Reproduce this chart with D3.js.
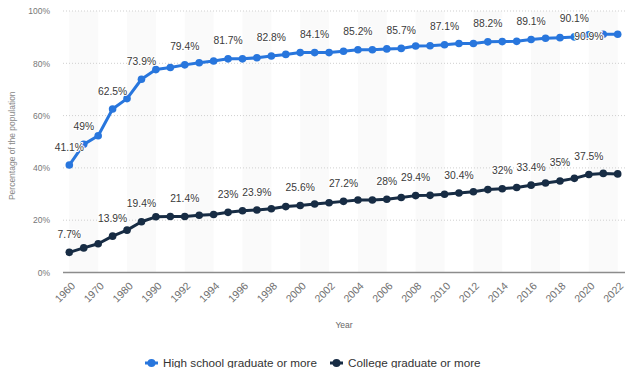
<!DOCTYPE html>
<html>
<head>
<meta charset="utf-8">
<script src="https://cdn.jsdelivr.net/npm/d3@7"></script>
<style>
  html, body { margin: 0; padding: 0; background: #fff; }
  svg { display: block; font-family: "Liberation Sans", Arial, sans-serif; }
</style>
</head>
<body>
<svg id="chart" width="625" height="368"></svg>
<script>
// Educational attainment of the population, 1960–2022
const years = ["1960","1965","1970","1975","1980","1985","1990","1991","1992","1993","1994","1995","1996","1997","1998","1999","2000","2001","2002","2003","2004","2005","2006","2007","2008","2009","2010","2011","2012","2013","2014","2015","2016","2017","2018","2019","2020","2021","2022"];
const highSchool = [41.1,49.0,52.3,62.5,66.5,73.9,77.6,78.4,79.4,80.2,80.9,81.7,81.7,82.1,82.8,83.4,84.1,84.1,84.1,84.6,85.2,85.2,85.5,85.7,86.6,86.7,87.1,87.6,87.6,88.2,88.3,88.4,89.1,89.6,89.8,90.1,90.9,91.1,91.1];
const college = [7.7,9.4,11.0,13.9,16.2,19.4,21.3,21.4,21.4,21.9,22.2,23.0,23.6,23.9,24.4,25.2,25.6,26.2,26.7,27.2,27.7,27.7,28.0,28.7,29.4,29.5,29.9,30.4,30.9,31.7,32.0,32.5,33.4,34.2,35.0,36.0,37.5,37.9,37.7];
// Years that carry a value label
const highSchoolLabeled = ["1960","1965","1975","1985","1992","1995","1998","2001","2004","2007","2010","2013","2016","2019","2020"];
const collegeLabeled = ["1960","1975","1985","1992","1995","1997","2000","2003","2006","2008","2011","2014","2016","2018","2020"];
const tickYears = ["1960","1970","1980","1990","1992","1994","1996","1998","2000","2002","2004","2006","2008","2010","2012","2014","2016","2018","2020","2022"];
const yTicks = [0, 20, 40, 60, 80, 100];
const seriesNames = ["High school graduate or more", "College graduate or more"];
const seriesColors = ["#2876dd", "#172c44"];

const svg = d3.select("#chart");
const plot = { left: 63, right: 625, top: 11, bottom: 272.5 };

const x = d3.scalePoint().domain(years).range([69.3, 617.7]);
const y = d3.scaleLinear().domain([0, 100]).range([plot.bottom, plot.top]);

// Alternating vertical bands, two categories wide
const bandStarts = years.filter((d, i) => i % 4 === 0 && i + 2 < years.length);
svg.append("g").selectAll("rect").data(bandStarts).join("rect")
  .attr("x", d => x(d))
  .attr("y", plot.top)
  .attr("width", d => x(years[years.indexOf(d) + 2]) - x(d))
  .attr("height", plot.bottom - plot.top)
  .attr("fill", "#fafafa");

// Horizontal grid
svg.append("g").selectAll("line").data(yTicks.filter(t => t > 0)).join("line")
  .attr("x1", plot.left).attr("x2", plot.right)
  .attr("y1", d => y(d)).attr("y2", d => y(d))
  .attr("stroke", "#cfcfcf").attr("stroke-width", 1)
  .attr("stroke-dasharray", "1,2");

// Y axis labels
const yAxis = d3.axisLeft(y).tickValues(yTicks).tickFormat(d => d + "%").tickSize(0).tickPadding(0);
const yg = svg.append("g").attr("transform", `translate(50,0)`).call(yAxis);
yg.select(".domain").remove();
yg.selectAll("text").attr("font-size", 8.5).attr("fill", "#777").attr("font-family", "Liberation Sans, Arial, sans-serif");

// X axis
const xAxis = d3.axisBottom(x).tickValues(tickYears).tickSize(0).tickPadding(0);
const xg = svg.append("g").attr("transform", `translate(0,${plot.bottom})`).call(xAxis);
xg.select(".domain").remove();
xg.selectAll("text")
  .attr("font-size", 10.5).attr("fill", "#707070")
  .attr("font-family", "Liberation Sans, Arial, sans-serif")
  .attr("text-anchor", "end")
  .attr("dy", 0)
  .attr("transform", "translate(6,14) rotate(-45)");

svg.append("line")
  .attr("x1", plot.left).attr("x2", plot.right)
  .attr("y1", plot.bottom).attr("y2", plot.bottom)
  .attr("stroke", "#8c8c8c").attr("stroke-width", 1.6);

// Axis titles
svg.append("text")
  .attr("transform", `translate(15,${(plot.top + plot.bottom) / 2 + 4}) rotate(-90)`)
  .attr("text-anchor", "middle").attr("font-size", 8.5).attr("fill", "#888")
  .text("Percentage of the population");
svg.append("text")
  .attr("x", (plot.left + plot.right) / 2).attr("y", 328)
  .attr("text-anchor", "middle").attr("font-size", 8.5).attr("fill", "#666")
  .text("Year");

// Series
const series = [
  { name: seriesNames[0], values: highSchool, color: seriesColors[0], labeled: highSchoolLabeled },
  { name: seriesNames[1], values: college, color: seriesColors[1], labeled: collegeLabeled }
];
const line = d3.line().x((d, i) => x(years[i])).y(d => y(d));

series.forEach(s => {
  const g = svg.append("g");
  g.append("path").attr("d", line(s.values))
    .attr("fill", "none").attr("stroke", s.color).attr("stroke-width", 3)
    .attr("stroke-linejoin", "round");
  g.selectAll("circle").data(s.values).join("circle")
    .attr("cx", (d, i) => x(years[i])).attr("cy", d => y(d))
    .attr("r", 3.8).attr("fill", s.color);
});

// Value labels
series.forEach((s, si) => {
  const lbl = s.labeled.map(yr => ({ yr, v: s.values[years.indexOf(yr)] }));
  svg.append("g").selectAll("text").data(lbl).join("text")
    .attr("x", d => x(d.yr))
    .attr("y", d => (si === 0 && d.yr === "2020") ? y(d.v) + 5 : y(d.v) - 14.5)
    .attr("text-anchor", "middle")
    .attr("font-size", 10.3)
    .attr("fill", "#3a3a3a")
    .attr("stroke", "#fff").attr("stroke-width", 2).attr("paint-order", "stroke")
    .attr("stroke-linejoin", "round")
    .text(d => d3.format("")(d.v) + "%");
});

// Legend
const legend = svg.append("g").attr("transform", "translate(0,363)");
const items = [{ x: 145, ...series[0] }, { x: 330, ...series[1] }];
items.forEach(it => {
  const g = legend.append("g").attr("transform", `translate(${it.x},0)`);
  g.append("line").attr("x1", 0).attr("x2", 13).attr("y1", 0).attr("y2", 0)
    .attr("stroke", it.color).attr("stroke-width", 3);
  g.append("circle").attr("cx", 6.5).attr("cy", 0).attr("r", 4).attr("fill", it.color);
  g.append("text").attr("x", 18).attr("y", 4)
    .attr("font-size", 11.7).attr("fill", "#333")
    .text(it.name);
});
</script>
</body>
</html>
